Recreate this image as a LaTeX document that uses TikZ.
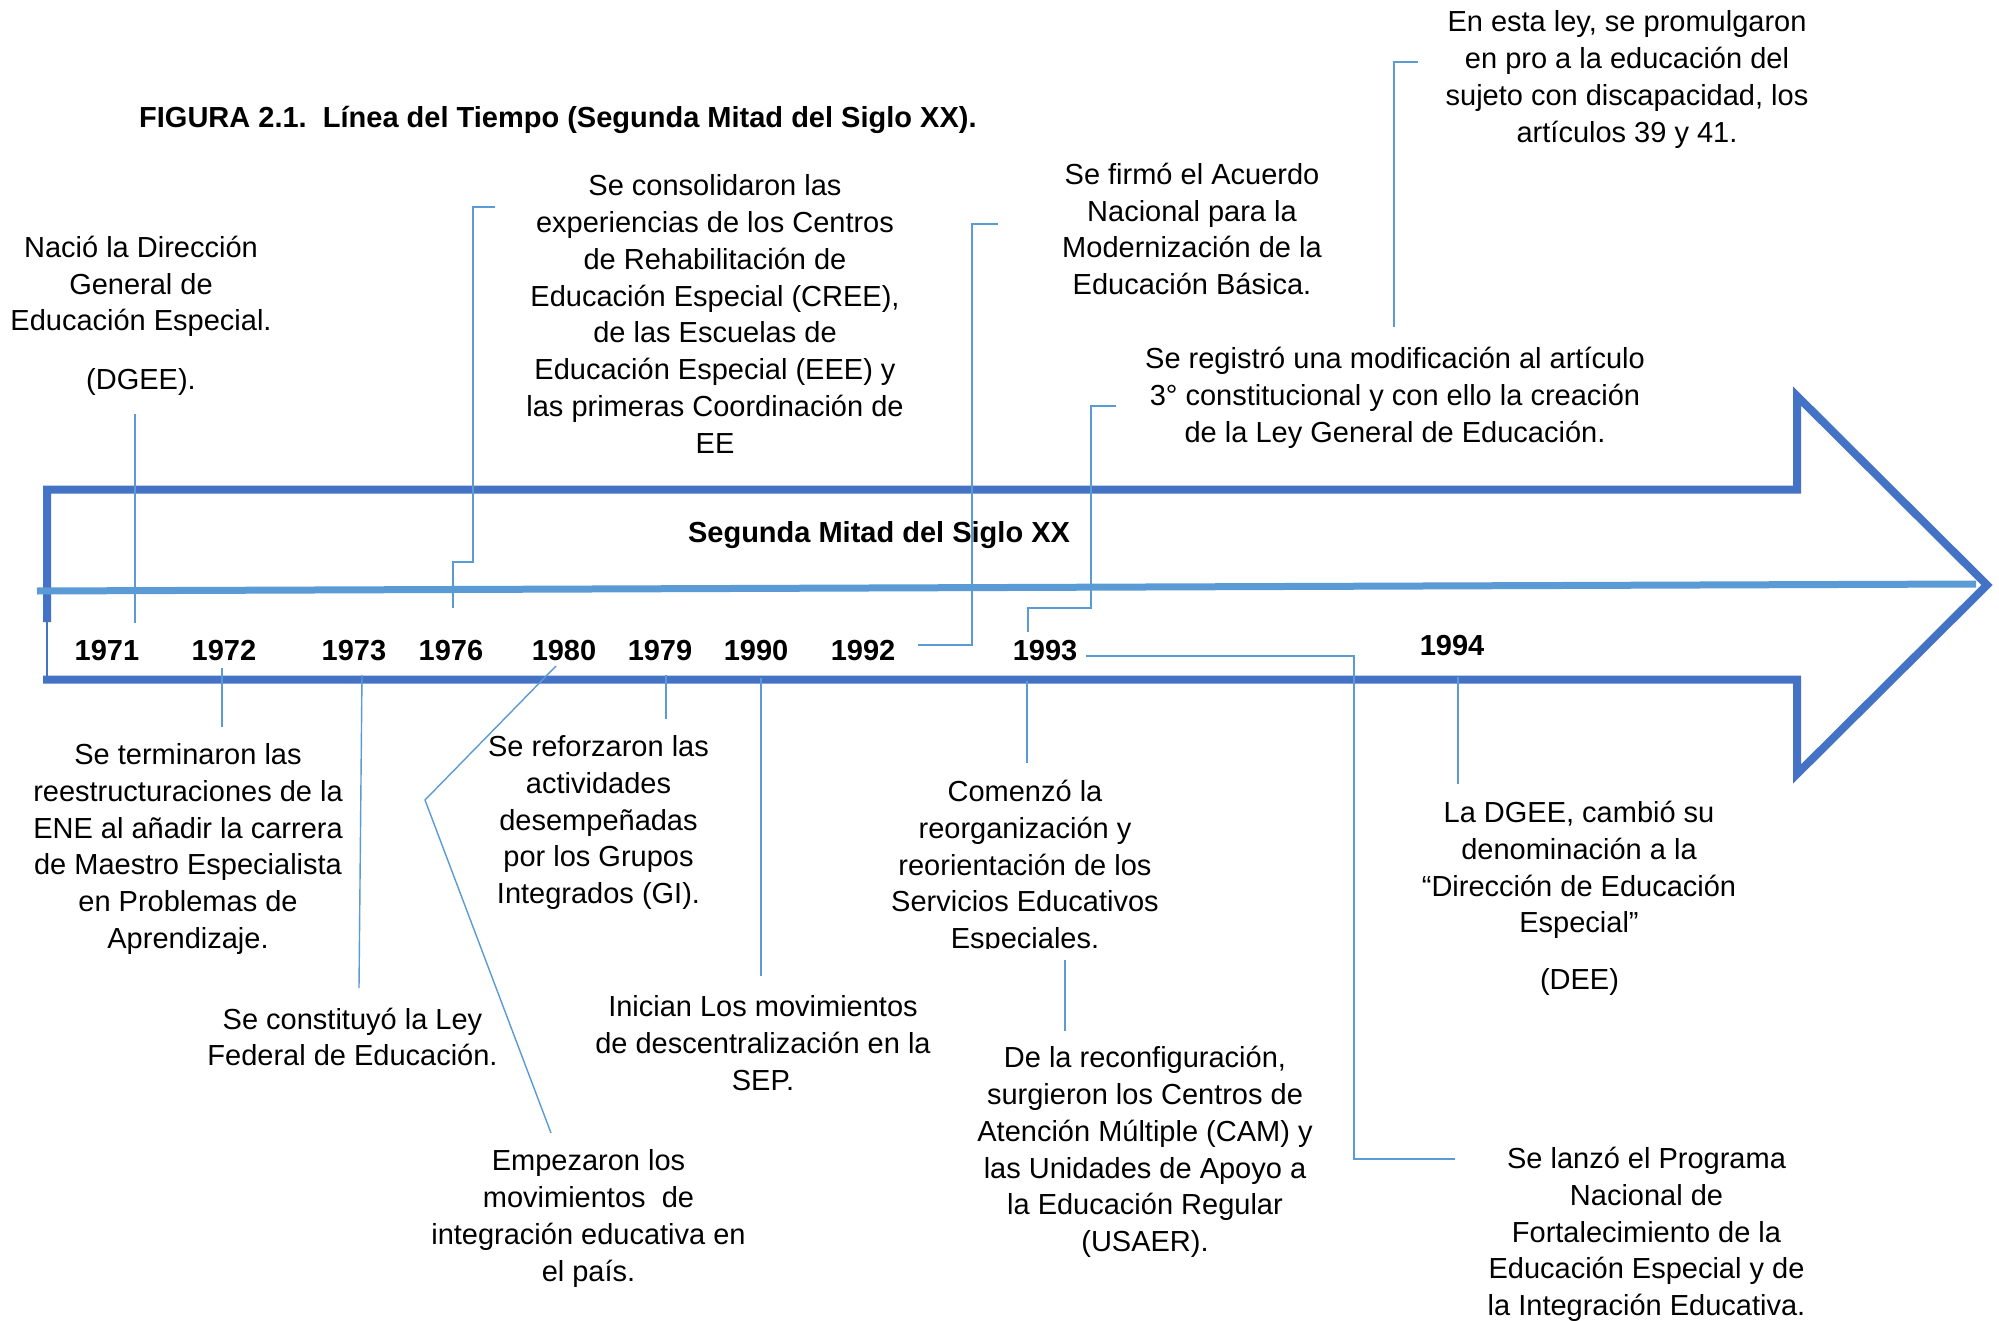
\documentclass[tikz,border=0pt]{standalone}
\usepackage{fontspec}
\setmainfont{Liberation Sans}
\definecolor{arrowblue}{HTML}{4472C4}
\definecolor{lineblue}{HTML}{5B9BD5}
\begin{document}
\begin{tikzpicture}[x=1pt,y=-1pt,
  txt/.style={font=\fontsize{29}{36.8}\selectfont, align=center, inner sep=0pt, yshift=-3pt},
  yr/.style={font=\fontsize{29}{35}\selectfont\bfseries, inner sep=0pt, anchor=base},
  link/.style={draw=lineblue, line width=1.4pt},
  ]
\useasboundingbox (0,0) rectangle (1999,1321);
\fill[white] (0,0) rectangle (1999,1321);

% big outlined arrow
\draw[arrowblue, line width=8pt, line join=miter]
  (43,679.5) -- (1797,679.5) -- (1797,774) -- (1987,585) -- (1797,396)
  -- (1797,489.5) -- (47,489.5) -- (47,622);
\draw[arrowblue, line width=1.5pt] (47,622) -- (47,676);

% time axis
\draw[lineblue, line width=7pt] (37,591) -- (1976,584);

% title and band label
\node[font=\fontsize{29}{35}\selectfont\bfseries, anchor=base west, inner sep=0pt]
  (title) at (139,128) {FIGURA 2.1.\ \ Línea del Tiempo (Segunda Mitad del Siglo XX).};
\node[yr] (band) at (879,542) {Segunda Mitad del Siglo XX};

% years
\node[yr] (y71) at (107,660) {1971};
\node[yr] (y72) at (224,660) {1972};
\node[yr] (y73) at (354,660) {1973};
\node[yr] (y76) at (451,660) {1976};
\node[yr] (y80) at (564,660) {1980};
\node[yr] (y79) at (660,660) {1979};
\node[yr] (y90) at (756,660) {1990};
\node[yr] (y92) at (863,660) {1992};
\node[yr] (y93) at (1045,660) {1993};
\node[yr] (y94) at (1452,655) {1994};

% events above the axis
\node[txt] (e71) at (141,283.5) {Nació la Dirección\\General de\\Educación Especial.};
\node[txt] (e71b) at (141,379) {(DGEE).};
\node[txt] (e76) at (715,311) {Se consolidaron las\\experiencias de los Centros\\de Rehabilitación de\\Educación Especial (CREE),\\de las Escuelas de\\Educación Especial (EEE) y\\las primeras Coordinación de\\EE};
\node[txt] (e92) at (1192,226) {Se firmó el Acuerdo\\Nacional para la\\Modernización de la\\Educación Básica.};
\node[txt] (e93ley) at (1627,76.5) {En esta ley, se promulgaron\\en pro a la educación del\\sujeto con discapacidad, los\\artículos 39 y 41.};
\node[txt] (e93) at (1395,395) {Se registró una modificación al artículo\\3° constitucional y con ello la creación\\de la Ley General de Educación.};

% events below the axis
\node[txt] (e72) at (188,846) {Se terminaron las\\reestructuraciones de la\\ENE al añadir la carrera\\de Maestro Especialista\\en Problemas de\\Aprendizaje.};
\node[txt] (e73) at (352.5,1034) {Se constituyó la Ley\\Federal de Educación.};
\node[txt] (e79) at (598.5,819.5) {Se reforzaron las\\actividades\\desempeñadas\\por los Grupos\\Integrados (GI).};
\node[txt] (e90) at (763,1040) {Inician Los movimientos\\de descentralización en la\\SEP.};
\node[txt] (e80) at (588.5,1215.5) {Empezaron los\\movimientos\ \ de\\integración educativa en\\el país.};
\begin{scope}
  \clip (880,740) rectangle (1180,948);
  \node[txt] (e93a) at (1025,864.5) {Comenzó la\\reorganización y\\reorientación de los\\Servicios Educativos\\Especiales.};
\end{scope}
\node[txt] (e93b) at (1145,1149) {De la reconfiguración,\\surgieron los Centros de\\Atención Múltiple (CAM) y\\las Unidades de Apoyo a\\la Educación Regular\\(USAER).};
\node[txt] (e94) at (1579,867) {La DGEE, cambió su\\denominación a la\\“Dirección de Educación\\Especial”};
\node[txt] (e94b) at (1579.5,979) {(DEE)};
\node[txt] (e93c) at (1646.5,1231.5) {Se lanzó el Programa\\Nacional de\\Fortalecimiento de la\\Educación Especial y de\\la Integración Educativa.};

% connector end points
\coordinate (a71) at (135,414);   \coordinate (b71) at (135,623);
\coordinate (a76) at (495,207);   \coordinate (k76a) at (473,207);
\coordinate (k76b) at (473,562);  \coordinate (k76c) at (453,562);
\coordinate (b76) at (453,608);
\coordinate (a92) at (918,645);   \coordinate (k92a) at (972,645);
\coordinate (k92b) at (972,224);  \coordinate (b92) at (998,224);
\coordinate (a93) at (1116,406);  \coordinate (k93a) at (1091,406);
\coordinate (k93b) at (1091,608); \coordinate (k93c) at (1028,608);
\coordinate (b93) at (1028,632);
\coordinate (a93r) at (1086,656); \coordinate (k93r) at (1354,656);
\coordinate (k93s) at (1354,1159);\coordinate (b93r) at (1455,1159);
\coordinate (aley) at (1418,62);  \coordinate (kley) at (1394,62);
\coordinate (bley) at (1394,327);
\coordinate (a72) at (222,668);   \coordinate (b72) at (222,727);
\coordinate (a73) at (362,675);   \coordinate (b73) at (359,988);
\coordinate (a80) at (556,666);   \coordinate (k80) at (425,800);
\coordinate (b80) at (551,1133);
\coordinate (a79) at (666,675);   \coordinate (b79) at (666,719);
\coordinate (a90) at (761,678);   \coordinate (b90) at (761,976);
\coordinate (a93d) at (1027,681); \coordinate (b93d) at (1027,763);
\coordinate (a93e) at (1065,960); \coordinate (b93e) at (1065,1031);
\coordinate (a94) at (1458,677);  \coordinate (b94) at (1458,784);

% connectors
\draw[link] (a71) -- (b71);
\draw[link] (a76) -- (k76a) -- (k76b) -- (k76c) -- (b76);
\draw[link] (a92) -- (k92a) -- (k92b) -- (b92);
\draw[link] (a93) -- (k93a) -- (k93b) -- (k93c) -- (b93);
\draw[link] (a93r) -- (k93r) -- (k93s) -- (b93r);
\draw[link] (aley) -- (kley) -- (bley);
\draw[link] (a72) -- (b72);
\draw[link] (a73) -- (b73);
\draw[link] (a80) -- (k80) -- (b80);
\draw[link] (a79) -- (b79);
\draw[link] (a90) -- (b90);
\draw[link] (a93d) -- (b93d);
\draw[link] (a93e) -- (b93e);
\draw[link] (a94) -- (b94);
\end{tikzpicture}
\end{document}
